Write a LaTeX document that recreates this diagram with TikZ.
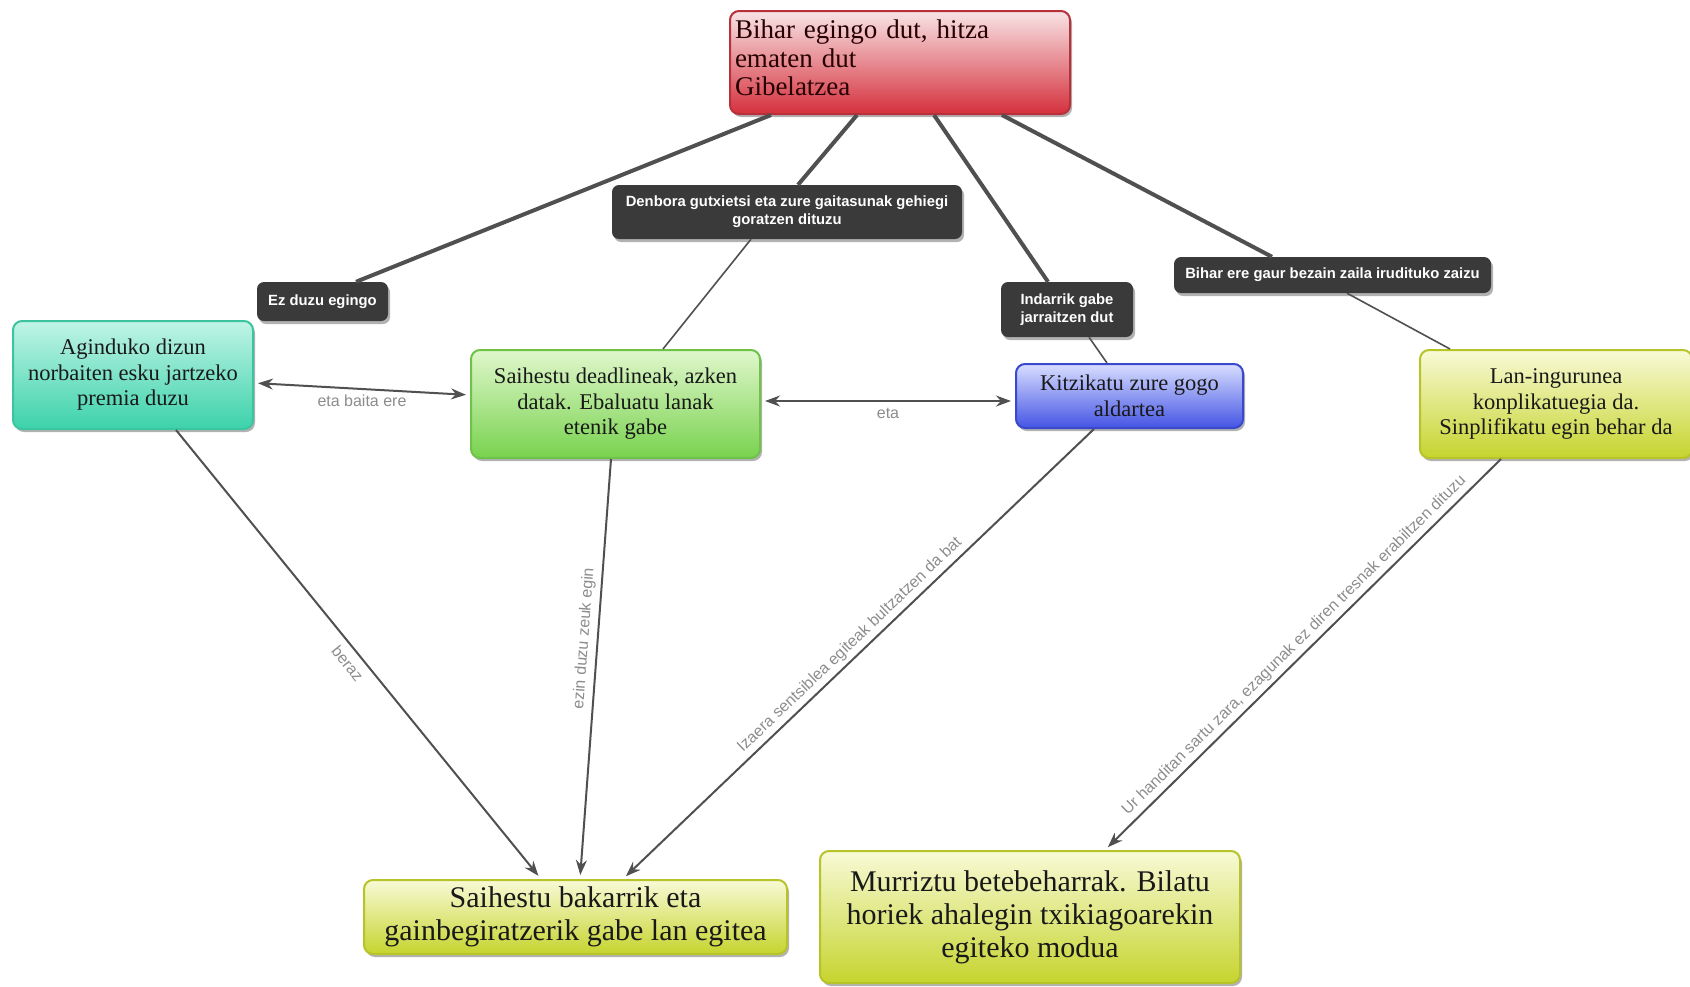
\documentclass[tikz,border=0pt]{standalone}
\usepackage{fontspec}
\setmainfont{Liberation Serif}
\setsansfont{Liberation Sans}
\usetikzlibrary{shadows,arrows.meta,calc}
\definecolor{edgecol}{HTML}{505050}
\definecolor{tagcol}{HTML}{3A3A3A}
\definecolor{redT}{HTML}{F8E4E6}
\definecolor{redB}{HTML}{D5303C}
\definecolor{redD}{HTML}{B8303A}
\definecolor{tealT}{HTML}{C0F4E6}
\definecolor{tealB}{HTML}{3CD2AA}
\definecolor{tealD}{HTML}{3CC49E}
\definecolor{grnT}{HTML}{E0F7CC}
\definecolor{grnB}{HTML}{78D24E}
\definecolor{grnD}{HTML}{6EC248}
\definecolor{bluT}{HTML}{D8DEFF}
\definecolor{bluB}{HTML}{4454E4}
\definecolor{bluD}{HTML}{3A48CC}
\definecolor{ylwT}{HTML}{F8FAD6}
\definecolor{ylwB}{HTML}{C6D42E}
\definecolor{ylwD}{HTML}{B6C42A}
\begin{document}
\begin{tikzpicture}[x=1pt,y=-1pt,
  box/.style={rounded corners=9pt, draw, line width=2pt, align=center, inner sep=4pt,
    text=black!90, drop shadow={shadow xshift=2pt,shadow yshift=-3pt,opacity=0.3,fill=black}},
  tag/.style={rounded corners=7pt, fill=tagcol, text=white, align=center, inner sep=2pt,
    font=\sffamily\bfseries\fontsize{14.8}{18.3}\selectfont,
    drop shadow={shadow xshift=2pt,shadow yshift=-3pt,opacity=0.3,fill=black}},
  link/.style={draw=edgecol, line width=4pt},
  thinlink/.style={draw=edgecol, line width=1.6pt},
  arr/.style={draw=edgecol, line width=2pt, shorten >=4pt, -{Stealth[length=15pt,width=11pt]}},
  dbl/.style={draw=edgecol, line width=2pt, shorten >=4pt, shorten <=4pt,
    {Stealth[length=15pt,width=11pt]}-{Stealth[length=15pt,width=11pt]}},
  elab/.style={font=\sffamily\fontsize{16}{18}\selectfont, text=black!45, inner sep=1pt},
  midfont/.style={font=\fontsize{22.5}{25.5}\selectfont},
  bigfont/.style={font=\fontsize{30}{33}\selectfont}
]
\useasboundingbox (0,0) rectangle (1690,986);
\clip (0,0) rectangle (1690,986);

% main concept
\node[box, draw=redD, top color=redT, bottom color=redB, minimum width=340pt, minimum height=103pt,
  text width=330pt, inner sep=5pt, align=left, font=\fontsize{27}{28.8}\selectfont, text=black!85!red,
  text depth=67pt]
  (top) at (900,62.5) {Bihar egingo dut, hitza\\ematen dut\\Gibelatzea};

% tags
\node[tag, minimum width=350pt, minimum height=54pt] (denb) at (787,212)
  {Denbora gutxietsi eta zure gaitasunak gehiegi\\goratzen dituzu};
\node[tag, minimum width=131pt, minimum height=39pt] (ez) at (322.5,301.5) {Ez duzu egingo};
\node[tag, minimum width=132pt, minimum height=55pt] (indar) at (1067,309.5) {Indarrik gabe\\jarraitzen dut};
\node[tag, minimum width=317pt, minimum height=36pt] (bihar) at (1332.5,275)
  {Bihar ere gaur bezain zaila irudituko zaizu};

% concepts
\node[box, draw=tealD, top color=tealT, bottom color=tealB, minimum width=240pt, minimum height=108pt,
  midfont] (agin) at (133,375)
  {Aginduko dizun\\norbaiten esku jartzeko\\premia duzu};
\node[box, draw=grnD, top color=grnT, bottom color=grnB, minimum width=289pt, minimum height=108pt,
  midfont] (said) at (615.5,404)
  {Saihestu deadlineak, azken\\datak. Ebaluatu lanak\\etenik gabe};
\node[box, draw=bluD, top color=bluT, bottom color=bluB, minimum width=227pt, minimum height=64pt,
  midfont] (kitz) at (1129.5,396)
  {Kitzikatu zure gogo\\aldartea};
\node[box, draw=ylwD, top color=ylwT, bottom color=ylwB, minimum width=272pt, minimum height=108pt,
  midfont] (lan) at (1556,404)
  {Lan-ingurunea\\konplikatuegia da.\\Sinplifikatu egin behar da};
\node[box, draw=ylwD, top color=ylwT, bottom color=ylwB, minimum width=423pt, minimum height=74pt,
  bigfont] (sbak) at (575.5,917)
  {Saihestu bakarrik eta\\gainbegiratzerik gabe lan egitea};
\node[box, draw=ylwD, top color=ylwT, bottom color=ylwB, minimum width=420pt, minimum height=132pt,
  bigfont] (murr) at (1030,917)
  {Murriztu betebeharrak. Bilatu\\horiek ahalegin txikiagoarekin\\egiteko modua};

% links from main concept to tags
\draw[link] ([xshift=-129pt]top.south) -- ([xshift=33.5pt]ez.north);
\draw[link] ([xshift=-43pt]top.south) -- ([xshift=11pt]denb.north);
\draw[link] ([xshift=34pt]top.south) -- ([xshift=-19pt]indar.north);
\draw[link] ([xshift=102pt]top.south) -- ([xshift=-60.5pt]bihar.north);

% tags to concepts
\draw[thinlink] ([xshift=-36pt]denb.south) -- ([xshift=47.5pt]said.north);
\draw[thinlink] ([xshift=22pt]indar.south) -- ([xshift=-22.5pt]kitz.north);
\draw[thinlink] ([xshift=14.5pt]bihar.south) -- ([xshift=-106pt]lan.north);

% cross links
\draw[dbl] ([yshift=-8pt]agin.east) -- node[elab, below=4pt]{eta baita ere} ([yshift=9pt]said.west);
\draw[dbl] ([yshift=3pt]said.east) -- node[elab, below=5pt]{eta} ([yshift=-5pt]kitz.west);

\draw[arr] ([xshift=43pt]agin.south) -- node[elab, sloped, below=6pt, pos=0.5]{beraz} ([xshift=-34.5pt]sbak.north);
\draw[arr] ([xshift=-4.5pt]said.south) -- node[elab, sloped, above=4pt, pos=0.43]{ezin duzu zeuk egin} ([xshift=4.5pt]sbak.north);
\draw[arr] ([xshift=-35.5pt]kitz.south) -- node[elab, sloped, above=3pt, pos=0.5]{Izaera sentsiblea egiteak bultzatzen da bat} ([xshift=47.5pt]sbak.north);
\draw[arr] ([xshift=-55pt]lan.south) -- node[elab, sloped, above=3pt, pos=0.5]{Ur handitan sartu zara, ezagunak ez diren tresnak erabiltzen dituzu} ([xshift=75pt]murr.north);
\end{tikzpicture}
\end{document}
